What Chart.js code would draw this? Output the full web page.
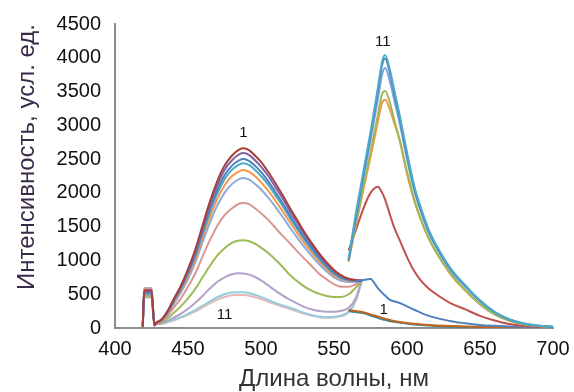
<!DOCTYPE html>
<html>
<head>
<meta charset="utf-8">
<script src="https://cdn.jsdelivr.net/npm/chart.js@4"></script>
<style>
  body { margin: 0; background: #fff; }
  #wrap { width: 574px; height: 392px; }
</style>
</head>
<body>
<div id="wrap"><canvas id="spectra" width="574" height="392"></canvas></div>
<script>
// wavelengths, nm
const leftWavelengths = [419, 420, 425, 427, 428, 432, 436, 440, 445, 450, 455, 460, 465, 470, 475, 480, 485, 488, 492, 496, 500, 505, 510, 515, 520, 525, 530, 535, 540, 545, 550, 555, 560, 565, 569];
const rightWavelengths = [560, 565, 570, 575, 580, 583, 585, 588, 591, 595, 600, 605, 610, 615, 620, 630, 640, 650, 660, 670, 680, 690, 700];

// left band (curves 1..11), intensity
const left1 = [20, 560, 560, 40, 70, 130, 250, 420, 620, 870, 1160, 1520, 1870, 2170, 2400, 2550, 2640, 2660, 2630, 2550, 2460, 2310, 2140, 1960, 1770, 1590, 1410, 1250, 1100, 970, 860, 780, 730, 710, 700];
const left2 = [20, 540, 540, 40, 70, 125, 240, 410, 605, 850, 1130, 1480, 1820, 2110, 2340, 2480, 2570, 2590, 2560, 2480, 2390, 2250, 2080, 1910, 1720, 1550, 1380, 1220, 1075, 950, 845, 770, 725, 705, 700];
const left3 = [20, 520, 520, 40, 70, 120, 235, 395, 585, 820, 1090, 1430, 1760, 2040, 2260, 2400, 2480, 2500, 2470, 2400, 2310, 2170, 2010, 1840, 1660, 1490, 1330, 1180, 1040, 920, 820, 750, 715, 700, 700];
const left4 = [20, 500, 500, 40, 70, 120, 230, 385, 570, 800, 1065, 1395, 1715, 1990, 2200, 2340, 2420, 2440, 2410, 2340, 2250, 2120, 1960, 1800, 1620, 1460, 1300, 1150, 1020, 900, 805, 740, 710, 700, 700];
const left5 = [20, 480, 480, 40, 70, 115, 220, 370, 545, 765, 1020, 1340, 1645, 1910, 2110, 2245, 2320, 2340, 2310, 2245, 2160, 2030, 1880, 1720, 1560, 1400, 1250, 1110, 985, 870, 780, 725, 700, 695, 700];
const left6 = [20, 560, 560, 40, 70, 110, 210, 350, 520, 725, 970, 1270, 1560, 1810, 2000, 2130, 2205, 2220, 2195, 2130, 2050, 1930, 1790, 1640, 1480, 1330, 1190, 1060, 940, 835, 750, 700, 680, 685, 700];
const left7 = [20, 580, 580, 40, 65, 100, 180, 295, 435, 610, 810, 1060, 1300, 1510, 1670, 1770, 1840, 1850, 1830, 1770, 1700, 1600, 1480, 1360, 1250, 1130, 1020, 910, 800, 720, 650, 610, 610, 650, 700];
const left8 = [20, 470, 470, 40, 60, 85, 140, 220, 320, 440, 580, 750, 920, 1070, 1180, 1260, 1295, 1300, 1285, 1245, 1190, 1110, 1010, 900, 780, 690, 610, 550, 505, 475, 460, 460, 500, 600, 700];
const left9 = [20, 590, 590, 40, 55, 70, 105, 150, 210, 285, 375, 475, 585, 680, 750, 795, 810, 808, 790, 755, 705, 630, 550, 480, 415, 360, 310, 275, 250, 240, 240, 255, 300, 450, 700];
const left10 = [20, 450, 450, 40, 55, 65, 90, 120, 160, 210, 265, 330, 395, 455, 500, 525, 530, 528, 515, 490, 460, 415, 370, 335, 300, 260, 220, 190, 170, 160, 165, 185, 240, 420, 700];
const left11 = [20, 590, 590, 40, 55, 62, 85, 112, 150, 195, 245, 305, 365, 420, 460, 485, 490, 488, 478, 455, 430, 390, 350, 315, 280, 245, 210, 180, 160, 150, 155, 175, 230, 400, 700];

// right band, intensity (null = no reading)
const rightA = [250, 235, 220, 185, 150, 130, 120, 105, 92, 80, 65, 52, 44, 36, 30, 22, 16, 12, 9, 7, 6, 5, 4];
const rightB = [270, 250, 235, 200, 170, 150, 135, 120, 105, 90, 75, 62, 52, 44, 38, 28, 21, 16, 12, 9, 7, 6, 5];
const rightC = [null, 690, 710, 725, 590, 520, 480, 420, 395, 370, 320, 270, 220, 180, 150, 100, 70, 45, 32, 24, 17, 12, 10];
const rightD = [1150, 1450, 1760, 2000, 2090, 2000, 1900, 1700, 1500, 1300, 1050, 840, 690, 580, 500, 365, 275, 180, 110, 60, 32, 18, 10];
const rightE = [980, 1520, 2030, 2530, 3050, 3340, 3380, 3250, 3050, 2780, 2280, 1880, 1570, 1320, 1120, 790, 550, 350, 200, 105, 55, 28, 15];
const rightF = [1000, 1550, 2080, 2600, 3150, 3470, 3510, 3360, 3100, 2780, 2320, 1900, 1580, 1320, 1120, 800, 560, 350, 200, 110, 55, 28, 15];
const rightG = [1000, 1620, 2200, 2780, 3380, 3760, 3850, 3680, 3400, 3030, 2500, 2030, 1690, 1400, 1190, 850, 610, 395, 230, 125, 65, 32, 18];
const rightH = [1000, 1650, 2250, 2850, 3500, 3900, 3990, 3800, 3500, 3100, 2560, 2070, 1720, 1430, 1210, 865, 620, 400, 235, 125, 65, 32, 18];
const rightI = [1030, 1700, 2300, 2900, 3550, 3950, 4040, 3850, 3550, 3150, 2600, 2100, 1750, 1450, 1230, 880, 630, 410, 240, 130, 70, 35, 20];

const xTicks = [400, 450, 500, 550, 600, 650, 700];
const yTicks = [0, 500, 1000, 1500, 2000, 2500, 3000, 3500, 4000, 4500];

// curve number labels: text, wavelength, intensity
const noteText = ["1", "11", "11", "1"];
const noteX = [488, 475, 583.5, 584];
const noteY = [2890, 190, 4230, 265];

const leftSeries = [left1, left2, left3, left4, left5, left6, left7, left8, left9, left10, left11];
const leftColors = ["#A63F3C", "#8064A2", "#4F81BD", "#4BACC6", "#F79646", "#8EA9DB", "#D99694", "#9BBB59", "#B3A2C7", "#93CDDD", "#E6B9B8"];
const rightSeries = [rightI, rightH, rightG, rightF, rightE, rightD, rightC, rightB, rightA];
const rightColors = ["#4BACC6", "#4F81BD", "#7F9FDB", "#9BBB59", "#F79646", "#C0504D", "#4F81BD", "#C0651E", "#31859C"];

function toPoints(xs, ys) {
  return xs.map((x, i) => ({ x: x, y: ys[i] }));
}

const datasets = [];
rightSeries.forEach((s, i) => {
  datasets.push({ data: toPoints(rightWavelengths, s), borderColor: rightColors[i] });
});
leftSeries.forEach((s, i) => {
  datasets.push({ data: toPoints(leftWavelengths, s), borderColor: leftColors[i] });
});
datasets.forEach(d => {
  d.borderWidth = 2;
  d.pointRadius = 0;
  d.cubicInterpolationMode = "monotone";
  d.fill = false;
});

// draws the curve numbers at data positions
const curveNotes = {
  id: "curveNotes",
  afterDatasetsDraw(chart) {
    const c = chart.ctx;
    c.save();
    c.font = "15px 'Liberation Sans', Arial, sans-serif";
    c.fillStyle = "#111";
    c.textAlign = "center";
    c.textBaseline = "middle";
    noteText.forEach((t, i) => {
      c.fillText(t, chart.scales.x.getPixelForValue(noteX[i]), chart.scales.y.getPixelForValue(noteY[i]));
    });
    c.restore();
  }
};

const fam = "'Liberation Sans', Arial, sans-serif";
const axisFont = { family: fam, size: 20 };

new Chart(document.getElementById("spectra").getContext("2d"), {
  type: "line",
  data: { datasets: datasets },
  plugins: [curveNotes],
  options: {
    responsive: false,
    animation: false,
    layout: { padding: { top: 24, right: 21, left: 0, bottom: 0 } },
    plugins: { legend: { display: false }, tooltip: { enabled: false } },
    scales: {
      x: {
        type: "linear",
        min: 400,
        max: 700,
        afterBuildTicks: s => { s.ticks = xTicks.map(v => ({ value: v })); },
        afterFit: s => { s.height = 64; s.paddingRight = 0; s.paddingLeft = 0; },
        grid: { display: false, drawTicks: false },
        border: { color: "#8c8c8c", width: 2 },
        ticks: { color: "#111", font: axisFont, padding: 9, maxRotation: 0, callback: v => String(v) },
        title: { display: true, text: "Длина волны, нм", color: "#333", font: { family: fam, size: 24 }, padding: { top: 0, bottom: -2 } }
      },
      y: {
        min: 0,
        max: 4500,
        afterBuildTicks: s => { s.ticks = yTicks.map(v => ({ value: v })); },
        afterFit: s => { s.width = 115; s.paddingTop = 0; s.paddingBottom = 0; },
        grid: { display: false, drawTicks: false },
        border: { color: "#8c8c8c", width: 2 },
        ticks: { color: "#111", font: axisFont, padding: 14, callback: v => String(v) },
        title: { display: true, text: "Интенсивность, усл. ед.", align: "end", color: "#3a2a4a", font: { family: fam, size: 24 }, padding: { top: 13, bottom: 0 } }
      }
    }
  }
});
</script>
</body>
</html>
